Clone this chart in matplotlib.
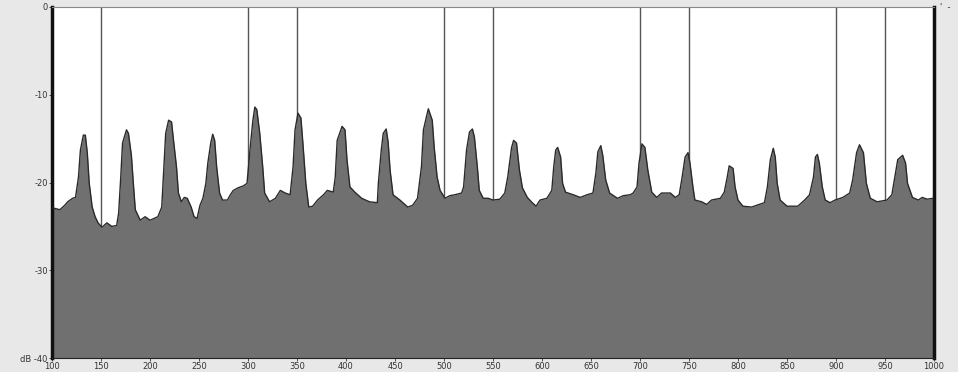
import numpy as np
import matplotlib.pyplot as plt

# spectrum (Hz, dB)
freq = [101, 108, 113, 116, 121, 124, 127, 129, 132, 134, 136, 138, 141, 144, 147,
        151, 156, 161, 166, 168, 170, 172, 176, 178, 181, 183, 185, 190, 195, 200,
        208, 212, 214, 216, 219, 222, 224, 227, 229, 232, 235, 238, 242, 245, 248,
        251, 254, 257, 259, 262, 264, 266, 268, 271, 274, 279, 282, 285, 290, 295,
        299, 302, 305, 307, 309, 312, 315, 317, 322, 328, 333, 338, 343, 346, 348,
        351, 354, 356, 359, 362, 366, 371, 377, 381, 387, 389, 391, 396, 399, 401,
        404, 409, 416, 424, 432, 433, 436, 438, 441, 443, 445, 448, 455, 463, 468,
        473, 477, 479, 483, 484, 488, 490, 493, 496, 501, 506, 511, 518, 520, 523,
        526, 529, 531, 534, 536, 540, 545, 550, 557, 562, 565, 569, 571, 574, 577,
        580, 585, 590, 594, 598, 605, 610, 612, 614, 616, 619, 621, 624, 632, 639,
        646, 652, 655, 657, 660, 662, 665, 669, 677, 683, 690, 693, 697, 699, 702,
        705, 708, 712, 717, 722, 731, 736, 740, 743, 746, 749, 751, 754, 756, 763,
        768, 773, 782, 786, 789, 791, 795, 797, 800, 805, 814, 819, 827, 830, 833,
        836, 838, 840, 843, 850, 861, 868, 873, 877, 879, 881, 883, 886, 889, 894,
        899, 907, 914, 917, 921, 924, 928, 931, 935, 942, 952, 957, 960, 963, 968,
        971, 973, 978, 984, 988, 993, 999]
level = [-22.9, -23.1, -22.6, -22.2, -21.8, -21.7, -19.4, -16.3, -14.6, -14.6, -16.6, -20.1, -22.8, -23.9, -24.6,
         -25.1, -24.6, -25.0, -24.9, -23.5, -19.7, -15.5, -14.0, -14.4, -16.9, -20.1, -23.1, -24.3, -23.9, -24.3,
         -23.9, -22.8, -18.6, -14.4, -12.9, -13.1, -15.2, -18.2, -21.2, -22.2, -21.7, -21.8, -22.8, -23.9, -24.1,
         -22.6, -21.8, -20.1, -17.8, -15.5, -14.5, -15.2, -18.2, -21.2, -22.0, -22.0, -21.4, -20.9, -20.6, -20.4,
         -20.1, -16.3, -12.9, -11.4, -11.7, -14.4, -18.2, -21.2, -22.2, -21.8, -20.9, -21.2, -21.4, -18.2, -14.0,
         -12.1, -12.65, -15.5, -20.1, -22.8, -22.7, -22.0, -21.4, -20.9, -21.1, -19.4, -15.2, -13.6, -14.0, -17.4,
         -20.5, -21.1, -21.8, -22.2, -22.3, -20.1, -16.3, -14.4, -13.9, -15.4, -18.6, -21.4, -22.0, -22.8, -22.6,
         -21.8, -18.2, -14.0, -12.1, -11.6, -12.9, -16.0, -19.4, -20.9, -21.8, -21.5, -21.4, -21.2, -20.5, -16.3,
         -14.25, -13.9, -14.8, -18.2, -20.9, -21.8, -21.8, -22.0, -21.9, -21.2, -19.4, -16.0, -15.2, -15.5, -18.6,
         -20.6, -21.7, -22.3, -22.7, -22.0, -21.8, -20.9, -18.2, -16.3, -16.0, -17.1, -20.1, -21.1, -21.4, -21.7,
         -21.4, -21.2, -18.9, -16.5, -15.8, -16.9, -19.7, -21.2, -21.8, -21.5, -21.4, -21.2, -20.5, -17.8, -15.6,
         -16.0, -18.6, -21.1, -21.7, -21.2, -21.2, -21.7, -21.4, -19.4, -17.1, -16.6, -17.8, -20.5, -22.0, -22.2,
         -22.5, -22.0, -21.8, -21.1, -19.4, -18.1, -18.4, -20.5, -22.0, -22.7, -22.8, -22.6, -22.3, -20.5, -17.4,
         -16.1, -17.1, -20.1, -22.0, -22.7, -22.7, -22.0, -21.4, -19.4, -17.1, -16.8, -17.8, -20.5, -22.0, -22.3,
         -22.0, -21.7, -21.2, -19.7, -16.6, -15.7, -16.6, -20.1, -21.8, -22.2, -22.0, -21.4, -19.4, -17.4, -16.9,
         -17.8, -20.1, -21.7, -22.0, -21.7, -21.9, -21.8]

markers = [150, 300, 350, 500, 550, 700, 750, 900, 950]
xticks = list(range(100, 1001, 50))
yticks = [0, -10, -20, -30, -40]
ylabels = ["0", "-10", "-20", "-30", "dB -40"]

fig = plt.figure(figsize=(9.58, 3.72), dpi=100)
fig.patch.set_facecolor("#e8e8e8")
ax = fig.add_axes([52 / 958, 14 / 372, 882 / 958, 351 / 372])
ax.set_facecolor("white")

for m in markers:
    ax.axvline(m, color="#555555", linewidth=1.0, zorder=1)

ax.fill_between(freq, level, -40, color="#707070", linewidth=0, zorder=2)
ax.plot(freq, level, color="#2a2a2a", linewidth=1.0, zorder=3)

ax.set_xlim(100, 1000)
ax.set_ylim(-40, 0)
ax.set_xticks(xticks)
ax.set_xticklabels([str(t) for t in xticks], fontsize=6, color="#333333")
ax.set_yticks(yticks)
ax.set_yticklabels(ylabels, fontsize=6, color="#333333")
ax.tick_params(length=2, width=0.6, pad=1, colors="#333333")

for side in ["left", "right"]:
    ax.spines[side].set_linewidth(2.5)
    ax.spines[side].set_color("#111111")
ax.spines["top"].set_color("#888888")
ax.spines["top"].set_linewidth(0.8)
ax.spines["bottom"].set_color("#222222")
ax.spines["bottom"].set_linewidth(0.8)

fig.text(940 / 958, 1 - 8 / 372, "'  -", fontsize=6, color="#333333", va="center")

fig.savefig("out.png", dpi=100, facecolor=fig.get_facecolor())
